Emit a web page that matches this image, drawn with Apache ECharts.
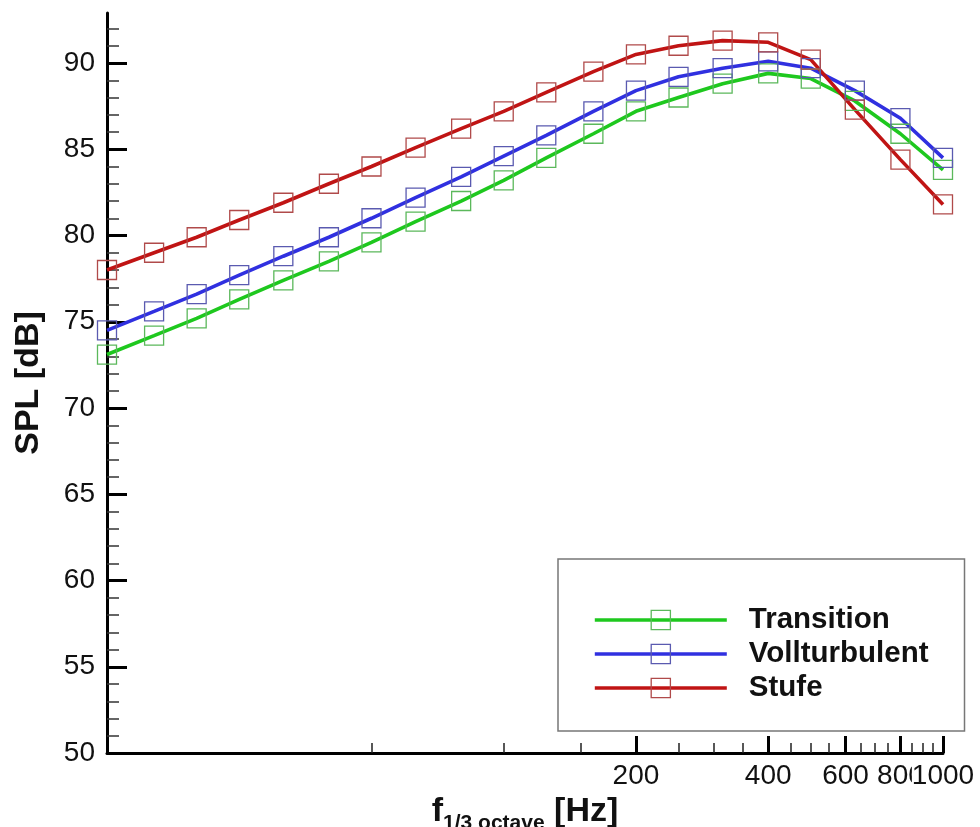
<!DOCTYPE html>
<html>
<head>
    <meta charset="UTF-8">
    <title>SPL</title>
    <script src="https://cdn.jsdelivr.net/npm/echarts@6/dist/echarts.min.js"></script>
    <style>
        *{margin:0;padding:0;}
        body,html{ width:100%; height:100%; background:#fff; }
        #main{ width:980px; height:827px; }
    </style>
</head>
<body>
<div id="main"></div>
<script>
    // Terzband-Mittenfrequenzen [Hz]
    var freqs = [12.5, 16, 20, 25, 31.5, 40, 50, 63, 80, 100, 125, 160, 200, 250, 315, 400, 500, 630, 800, 1000];
    // SPL [dB]
    var transition    = [73.1, 74.2, 75.2, 76.3, 77.4, 78.5, 79.6, 80.8, 82.0, 83.2, 84.5, 85.9, 87.2, 88.0, 88.8, 89.4, 89.1, 87.8, 85.9, 83.8];
    var vollturbulent = [74.5, 75.6, 76.6, 77.7, 78.8, 79.9, 81.0, 82.2, 83.4, 84.6, 85.8, 87.2, 88.4, 89.2, 89.7, 90.1, 89.7, 88.4, 86.8, 84.5];
    var stufe         = [78.0, 79.0, 79.9, 80.9, 81.9, 83.0, 84.0, 85.1, 86.2, 87.2, 88.3, 89.5, 90.5, 91.0, 91.3, 91.2, 90.2, 87.3, 84.4, 81.8];

    // ticks
    var xMajor = [200, 400, 600, 800, 1000];
    var xLabelsA = [200, 400, 600, 800];   // 1000 kommt auf die zweite Achse (liegt ueber 800)
    var xLabelsB = [1000];
    var xMinor = [50, 100, 150, 250, 300, 350, 450, 500, 550, 650, 700, 750, 850, 900, 950];
    var yMajor = [50, 55, 60, 65, 70, 75, 80, 85, 90];
    var yMinor = [51, 52, 53, 54, 56, 57, 58, 59, 61, 62, 63, 64, 66, 67, 68, 69, 71, 72, 73, 74,
                  76, 77, 78, 79, 81, 82, 83, 84, 86, 87, 88, 89, 91, 92];

    var font = 'Liberation Sans, Arial, Helvetica, sans-serif';

    // x-Achse logarithmisch: Daten in log10 umrechnen
    function lg(v){ return Math.log10(v); }
    function pairs(arr){
        return freqs.map(function(f, i){ return [lg(f), arr[i]]; });
    }
    function hz(v){ return String(Math.round(Math.pow(10, v))); }

    function makeSeries(name, data, lineColor, markColor){
        return {
            name: name,
            type: 'line',
            data: pairs(data),
            symbol: 'rect',
            symbolSize: 19,
            showAllSymbol: true,
            clip: false,
            lineStyle: { color: lineColor, width: 3.6 },
            itemStyle: { color: 'transparent', borderColor: markColor, borderWidth: 1.3 },
            emphasis: { disabled: true }
        };
    }

    var chart = echarts.init(document.getElementById('main'));

    var xMin = lg(12.5), xMax = lg(1000) + 1e-9;
    var xLabelStyle = {
        formatter: hz,
        fontFamily: font, fontSize: 28, color: '#111', margin: 9,
        backgroundColor: '#fff',
        showMinLabel: true, showMaxLabel: true, hideOverlap: false
    };

    var option = {
        animation: false,
        grid: { left: 107, right: 37, top: 13, bottom: 74, containLabel: false, outerBoundsMode: 'none' },
        legend: {
            orient: 'vertical',
            left: 558,
            top: 559,
            padding: [46, 36, 28, 35],
            itemWidth: 132,
            itemHeight: 24,
            itemGap: 4,
            borderColor: '#777',
            borderWidth: 1.5,
            backgroundColor: '#fff',
            selectedMode: false,
            textStyle: { fontFamily: font, fontSize: 29.5, fontWeight: 'bold', color: '#111', padding: [0, 0, 0, 17] },
            data: [
                { name: 'Transition', itemStyle: { color: 'transparent', borderColor: '#5bb85b', borderWidth: 1.3 }, lineStyle: { color: '#1ec81e', width: 3.6 } },
                { name: 'Vollturbulent', itemStyle: { color: 'transparent', borderColor: '#5a5ab0', borderWidth: 1.3 }, lineStyle: { color: '#3030e0', width: 3.6 } },
                { name: 'Stufe', itemStyle: { color: 'transparent', borderColor: '#b04a4a', borderWidth: 1.3 }, lineStyle: { color: '#c01414', width: 3.6 } }
            ]
        },
        xAxis: [{
            type: 'value',
            min: xMin,
            max: xMax,
            position: 'bottom',
            axisLine: { onZero: false, lineStyle: { color: '#000', width: 3 } },
            axisTick: { inside: true, length: 17, lineStyle: { color: '#000', width: 3 },
                customValues: xMajor.map(lg) },
            axisLabel: Object.assign({ customValues: xLabelsA.map(lg) }, xLabelStyle),
            splitLine: { show: false },
            name: '{f|f}{s|1/3 octave}{h| [Hz]}',
            nameLocation: 'middle',
            nameGap: 35,
            nameTextStyle: {
                rich: {
                    f: { fontFamily: font, fontSize: 34, fontWeight: 'bold', color: '#111', lineHeight: 34, verticalAlign: 'top' },
                    s: { fontFamily: font, fontSize: 21, fontWeight: 'bold', color: '#111', lineHeight: 21, padding: [18, 0, 0, 0], verticalAlign: 'top' },
                    h: { fontFamily: font, fontSize: 34, fontWeight: 'bold', color: '#111', lineHeight: 34, verticalAlign: 'top' }
                }
            }
        }, {
            type: 'value',
            min: xMin,
            max: xMax,
            position: 'bottom',
            axisLine: { show: false, onZero: false },
            axisTick: { inside: true, length: 10, lineStyle: { color: '#222', width: 1.5 },
                customValues: xMinor.map(lg) },
            axisLabel: Object.assign({ customValues: xLabelsB.map(lg) }, xLabelStyle),
            splitLine: { show: false }
        }],
        yAxis: [{
            type: 'value',
            min: 50,
            max: 92.9,
            position: 'left',
            axisLine: { show: true, onZero: false, lineStyle: { color: '#000', width: 3 } },
            axisTick: { show: true, inside: true, length: 20, lineStyle: { color: '#000', width: 3 },
                customValues: yMajor },
            axisLabel: { customValues: yMajor, fontFamily: font, fontSize: 28, color: '#111', margin: 12 },
            splitLine: { show: false },
            name: 'SPL [dB]',
            nameLocation: 'middle',
            nameGap: 61,
            nameTextStyle: { fontFamily: font, fontSize: 34, fontWeight: 'bold', color: '#111' }
        }, {
            type: 'value',
            min: 50,
            max: 92.9,
            position: 'left',
            offset: 0,
            axisLine: { show: false, onZero: false },
            axisTick: { show: true, inside: true, length: 12, lineStyle: { color: '#333', width: 1.5 },
                customValues: yMinor },
            axisLabel: { show: false },
            splitLine: { show: false }
        }],
        series: [
            makeSeries('Transition', transition, '#1ec81e', '#5bb85b'),
            makeSeries('Vollturbulent', vollturbulent, '#3030e0', '#5a5ab0'),
            makeSeries('Stufe', stufe, '#c01414', '#b04a4a')
        ]
    };

    chart.setOption(option);
</script>
</body>
</html>
